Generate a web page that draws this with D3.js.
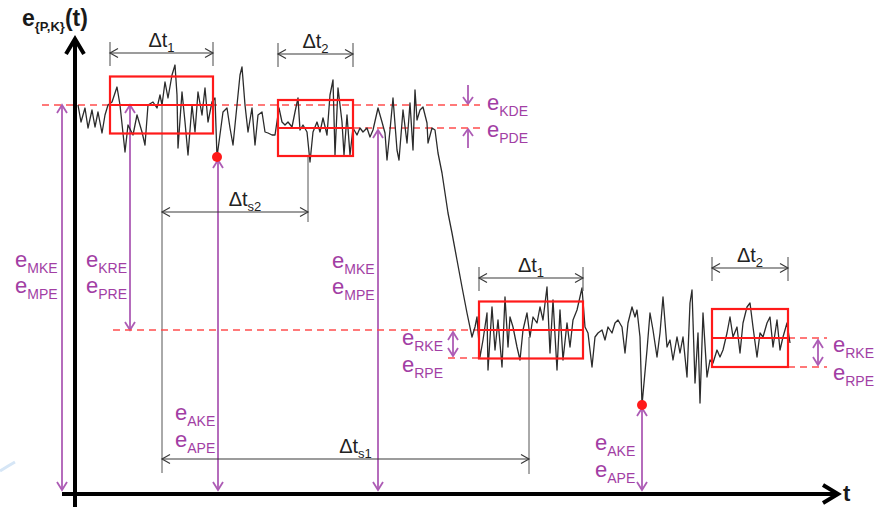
<!DOCTYPE html>
<meta charset="utf-8">
<script src="https://d3js.org/d3.v7.min.js"></script>
<style>
  body { margin: 0px; background: #fff; }
  svg text { font-family: "Liberation Sans", Arial, sans-serif; }
</style>
<div id="my_dataviz"></div>
<script>
// error signal e(t), pairs [t, e]
const signal = [
 [3,389],[6,372],[10,386],[13,366],[17,384],[20,367],[23,382],[27,361],[30,379],[33,389],
 [37,392],[42,407],[45,389],[50,342],[53,369],[58,359],[62,379],[67,362],[70,349],[73,389],
 [78,392],[82,386],[85,399],[87,389],[90,412],[93,396],[97,419],[100,429],[102,399],[103,346],
 [107,402],[110,372],[113,339],[117,389],[120,362],[123,402],[127,379],[130,406],[133,372],[137,392],
 [140,396],[142,337],
 [148,382],[152,386],[155,366],[158,349],[162,389],[165,419],[167,427],[170,389],[173,362],[177,386],
 [180,349],[183,379],[187,382],[190,362],[193,361],[197,359],[200,359],[204,386],[207,372],[210,369],
 [213,372],[217,367],[220,382],[223,396],[225,364],[228,369],[232,362],[235,332],[238,362],[242,372],
 [245,362],[248,376],[252,359],[255,399],[258,414],[260,339],[263,406],[267,372],[269,339],[272,379],
 [275,339],[278,366],[282,359],[285,366],[288,362],[292,366],
 [295,357],[298,364],[303,386],[307,372],[310,361],[312,334],[315,364],[318,396],[322,344],[324,334],
 [328,384],[332,351],[335,391],[338,344],[340,404],[342,374],[345,384],[348,387],[352,371],[353,351],
 [357,366],[360,364],[363,341],[367,321],[370,301],[373,281],[377,261],[382,234],[387,207],[392,181],
 [397,157],[400,167],
 [402,177],[405,137],[408,154],[412,181],[413,124],[417,187],[420,144],[423,174],[427,127],[430,197],
 [433,147],[435,177],[438,167],[442,147],[445,134],[448,164],[452,181],[455,157],[458,177],[462,171],
 [465,187],[468,174],[472,207],[475,141],[478,194],[482,124],[485,184],[488,134],[492,171],[495,147],
 [498,174],[502,184],[507,206],[510,167],[513,161],[517,127],[520,157],[523,161],[527,164],[530,154],
 [533,167],[537,161],[540,171],[543,174],[547,167],[550,141],[553,171],[557,187],[560,177],
 [562,184],[565,157],[567,89],[572,144],[575,181],[578,164],[582,137],[585,161],[588,197],[592,147],
 [595,154],[598,134],[602,157],[605,141],[608,157],[612,117],[615,191],[617,204],[620,111],[623,161],
 [625,91],[628,181],[632,117],[635,134],[638,131],[642,144],[645,137],[648,144],[652,161],[655,177],
 [658,157],[662,167],[665,141],[668,171],[672,187],[675,191],[678,167],[682,137],[685,161],[688,157],
 [692,171],[695,177],[698,147],[702,174],[705,144],[708,157],[712,171],[715,151]
];

// measurement windows (boxes)
const winT0 = [35, 203, 404, 637];
const winT1 = [138, 278, 508, 713];
const winMid = [389, 366, 164, 156];
const winHalf = [28.5, 28, 28.5, 29];
const winName = ["1", "2", "1", "2"];
const winArrowE = [441, 440, 216, 226];

// red dashed reference levels
const dashT0 = [-33, 278, 38, 373, 713, 713];
const dashT1 = [405, 405, 403, 404, 752, 752];
const dashE = [389, 366, 164, 136, 156, 127];

// local minima (red dots)
const minT = [142, 567];
const minE = [337, 89];

// shift spans dts2, dts1
const shiftT0 = [87, 87];
const shiftT1 = [233, 454];
const shiftE = [282, 35];
const shiftName = ["s2", "s1"];

// purple double arrows
const arrT = [-13, 55, 143, 303, 567, 378, 743];
const arrTop = [389, 389, 334, 364, 86, 162, 154];
const arrBot = [4, 164, 4, 4, 4, 138, 129];

// purple labels
const labT = [-60, -60, 11, 11, 257, 257, 327, 327, 758, 758, 412, 412, 100, 100, 520, 520];
const labE = [227, 201, 227, 201, 226, 200, 149, 122, 142, 114, 384, 357, 74, 47, 44, 17];
const labSub = ["MKE","MPE","KRE","PRE","MKE","MPE","RKE","RPE","RKE","RPE","KDE","PDE","AKE","APE","AKE","APE"];

const W = 880, H = 507;
const purple = "#a23ea4", purpleLine = "#ad5cb5", red = "#ff1a1a", gray = "#3a3a3a";

const svg = d3.select("#my_dataviz").append("svg")
  .attr("width", W).attr("height", H);

const x = d3.scaleLinear().domain([0, 763]).range([75, 838]);
const y = d3.scaleLinear().domain([0, 450]).range([494, 44]);

function chev(px, py, dx, dy, len, half, color, width) {
  const nx = -dy, ny = dx;
  const bx = px - dx * len, by = py - dy * len;
  svg.append("path")
    .attr("d", `M${bx + nx * half},${by + ny * half}L${px},${py}L${bx - nx * half},${by - ny * half}`)
    .attr("fill", "none").attr("stroke", color).attr("stroke-width", width);
}
function seg(x1, y1, x2, y2, color, width) {
  return svg.append("line").attr("x1", x1).attr("y1", y1).attr("x2", x2).attr("y2", y2)
    .attr("stroke", color).attr("stroke-width", width);
}

// faint slide artefact bottom-left
svg.append("path").attr("d", "M0,471 Q8,466 15,462").attr("fill", "none")
  .attr("stroke", "#d6e6f6").attr("stroke-width", 3);

// gray guide lines for shifts
seg(x(87), y(394), x(87), y(21), "#555", 1);
seg(x(233), y(337), x(233), y(272), "#555", 1);
seg(x(454), y(157), x(454), y(20), "#555", 1);

// purple vertical arrows
arrT.forEach((t, i) => {
  const xx = x(t), y1 = y(arrTop[i]), y2 = y(arrBot[i]);
  seg(xx, y1, xx, y2, purpleLine, 1.8);
  chev(xx, y1, 0, -1, 8, 5, purpleLine, 1.8);
  chev(xx, y2, 0, 1, 8, 5, purpleLine, 1.8);
});
// kde / pde inward arrows
seg(x(393), y(409), x(393), y(390), purpleLine, 1.8);
chev(x(393), y(390), 0, 1, 7, 5, purpleLine, 1.8);
seg(x(393), y(346), x(393), y(365), purpleLine, 1.8);
chev(x(393), y(365), 0, -1, 7, 5, purpleLine, 1.8);

// dashed red levels
dashE.forEach((e, i) => {
  seg(x(dashT0[i]), y(e), x(dashT1[i]), y(e), "#ff4d4d", 1.6).attr("stroke-dasharray", "7,5");
});

// signal
const line = d3.line().x(d => x(d[0])).y(d => y(d[1]));
svg.append("path").datum(signal).attr("d", line)
  .attr("fill", "none").attr("stroke", "#2b2b2b").attr("stroke-width", 1.3)
  .attr("stroke-linejoin", "round");

// red windows with mid line
winT0.forEach((t0, i) => {
  const x0 = x(t0), x1 = x(winT1[i]);
  const yt = y(winMid[i] + winHalf[i]), yb = y(winMid[i] - winHalf[i]);
  svg.append("rect").attr("x", x0).attr("y", yt).attr("width", x1 - x0).attr("height", yb - yt)
    .attr("fill", "none").attr("stroke", red).attr("stroke-width", 2.2);
  seg(x0, y(winMid[i]), x1, y(winMid[i]), red, 2.2);

  // window span arrow
  const ya = y(winArrowE[i]);
  seg(x0, ya - 11, x0, ya + 13, "#666", 1.2);
  seg(x1, ya - 11, x1, ya + 13, "#666", 1.2);
  seg(x0, ya, x1, ya, gray, 1.2);
  chev(x0, ya, -1, 0, 8, 4.5, gray, 1.2);
  chev(x1, ya, 1, 0, 8, 4.5, gray, 1.2);
  const tx = svg.append("text").attr("x", (x0 + x1) / 2).attr("y", ya - 6)
    .attr("text-anchor", "middle").attr("fill", "#222");
  tx.append("tspan").attr("font-size", 20).text("Δt");
  tx.append("tspan").attr("font-size", 13).attr("dy", 5).text(winName[i]);
});

// shift span arrows
shiftT0.forEach((t0, i) => {
  const x0 = x(t0), x1 = x(shiftT1[i]), ya = y(shiftE[i]);
  seg(x0, ya, x1, ya, gray, 1.2);
  chev(x0, ya, -1, 0, 8, 4.5, gray, 1.2);
  chev(x1, ya, 1, 0, 8, 4.5, gray, 1.2);
  const tx = svg.append("text").attr("x", (x0 + x1) / 2 + 10).attr("y", ya - 6)
    .attr("text-anchor", "middle").attr("fill", "#222");
  tx.append("tspan").attr("font-size", 20).text("Δt");
  tx.append("tspan").attr("font-size", 13).attr("dy", 5).text(shiftName[i]);
});

// red minima
minT.forEach((t, i) => {
  svg.append("circle").attr("cx", x(t)).attr("cy", y(minE[i])).attr("r", 5).attr("fill", red);
});

// purple labels
labT.forEach((t, i) => {
  const tx = svg.append("text").attr("x", x(t)).attr("y", y(labE[i])).attr("fill", purple);
  tx.append("tspan").attr("font-size", 22).text("e");
  tx.append("tspan").attr("font-size", 14).attr("dy", 6).text(labSub[i]);
});

// axes
seg(x(0), H, x(0), y(452), "#000", 4);
chev(x(0), y(455), 0, -1, 15, 9, "#000", 4);
seg(x(-13), y(0), x(760), y(0), "#000", 4);
chev(x(763), y(0), 1, 0, 15, 9, "#000", 4);

const yl = svg.append("text").attr("x", 22).attr("y", 26).attr("fill", "#1a1a1a").attr("font-weight", "bold");
yl.append("tspan").attr("font-size", 23).text("e");
yl.append("tspan").attr("font-size", 13).attr("dy", 5).text("{P,K}");
yl.append("tspan").attr("font-size", 23).attr("dy", -5).text("(t)");

svg.append("text").attr("x", 843).attr("y", 501).attr("fill", "#1a1a1a")
  .attr("font-weight", "bold").attr("font-size", 22).text("t");
</script>
